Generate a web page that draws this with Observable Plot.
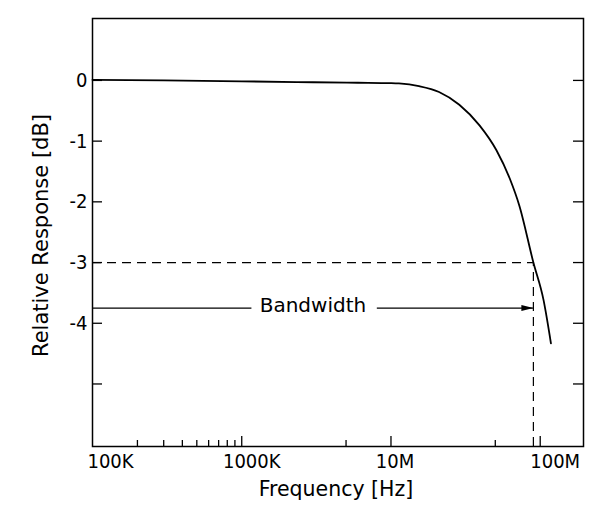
<!DOCTYPE html>
<html><head><meta charset="utf-8">
<script src="https://cdn.jsdelivr.net/npm/d3@7"></script>
<script src="https://cdn.jsdelivr.net/npm/@observablehq/plot@0.6"></script>
<style>html,body{margin:0;padding:0;background:#fff}</style>
</head><body><div id="chart"></div>
<script>
// ---- data ----
const freqHz     = [1e5, 3e5, 1e6, 3e6, 6e6, 1e7, 1.13e7, 1.54e7, 2.1e7, 2.87e7, 3.92e7, 5.09e7, 6.26e7, 7.24e7, 9.0e7, 1.053e8, 1.18e8];
const responseDb = [0.01, 0, -0.015, -0.03, -0.038, -0.045, -0.05, -0.094, -0.19, -0.40, -0.74, -1.15, -1.62, -2.06, -3.0, -3.62, -4.33];
const xTickValues = [1e5, 1e6, 1e7, 1e8];
const xTickLabels = ["100K", "1000K", "10M", "100M"];
const xMajorTicks = [1e6, 1e7, 1e8];
const xMinorTicks = [2e5, 3e5, 4e5, 5e5, 6e5, 7e5, 8e5, 9e5, 5e6, 5e7];
const yTickValues = [0, -1, -2, -3, -4, -5];
const yTickLabels = ["0", "-1", "-2", "-3", "-4"];
const bandwidthHz = 9.0e7;
const bandwidthDb = -3;
const arrowDb = -3.75;
const arrowGapHz = [1.17e6, 8.1e6];
const bandwidthLabelHz = 3.0e6;
const bandwidthLabel = "Bandwidth";
const xDomain = [1e5, 1.95e8];
const yDomain = [-6.03, 1.02];
const xTitle = "Frequency [Hz]";
const yTitle = "Relative Response [dB]";

// ---- chart ----
const curve = freqHz.map((f, i) => ({f, db: responseDb[i]}));
const arrowHead = {draw(ctx) { ctx.moveTo(0, 0); ctx.lineTo(-12, -3); ctx.lineTo(-12, 3); ctx.closePath(); }};
const labelNudge = [18, 10, 4, 15];
const dash = "9,6";

const marks = [
  Plot.ruleY([bandwidthDb], {x1: xDomain[0], x2: bandwidthHz, stroke: "#000", strokeWidth: 1.2, strokeDasharray: dash}),
  Plot.ruleX([bandwidthHz], {y1: yDomain[0], y2: bandwidthDb, stroke: "#000", strokeWidth: 1.2, strokeDasharray: dash}),
  Plot.ruleY([arrowDb], {x1: xDomain[0], x2: arrowGapHz[0], stroke: "#000", strokeWidth: 1.2}),
  Plot.ruleY([arrowDb], {x1: arrowGapHz[1], x2: bandwidthHz, stroke: "#000", strokeWidth: 1.2}),
  Plot.dot([0], {x: () => bandwidthHz, y: () => arrowDb, symbol: arrowHead, fill: "#000", stroke: "none"}),
  Plot.text([bandwidthLabel], {x: () => bandwidthLabelHz, y: () => arrowDb, text: d => d, fontSize: 20, dy: -2, fill: "#000"}),
  Plot.line(curve, {x: "f", y: "db", curve: "monotone-x", stroke: "#000", strokeWidth: 1.8}),
  // inward ticks
  Plot.ruleX(xMajorTicks, {y1: yDomain[0], y2: yDomain[0], insetBottom: 10, stroke: "#000", strokeWidth: 1.3}),
  Plot.ruleX(xMinorTicks, {y1: yDomain[0], y2: yDomain[0], insetBottom: 6, stroke: "#000", strokeWidth: 1.3}),
  Plot.ruleY(yTickValues, {x1: xDomain[0], x2: xDomain[0], insetRight: -10, stroke: "#000", strokeWidth: 1.3}),
  Plot.ruleY(yTickValues, {x1: xDomain[1], x2: xDomain[1], insetLeft: -10, stroke: "#000", strokeWidth: 1.3}),
  Plot.frame({stroke: "#000", strokeWidth: 1.5}),
  // tick labels
  Plot.text(yTickLabels, {y: (d, i) => yTickValues[i], text: d => d, frameAnchor: "left", textAnchor: "end", dx: -5, fontSize: 20, fill: "#000", ariaDescription: "ticklabel"}),
  ...xTickLabels.map((lab, i) => Plot.text([lab], {x: () => xTickValues[i], text: d => d, frameAnchor: "bottom", textAnchor: "middle", dy: 21, dx: labelNudge[i], fontSize: 20, fill: "#000", ariaDescription: "ticklabel"})),
  // titles
  Plot.text([xTitle], {frameAnchor: "bottom", textAnchor: "middle", text: d => d, dy: 49, dx: -2, fontSize: 20.5, fill: "#000"}),
  Plot.text([yTitle], {frameAnchor: "left", textAnchor: "middle", text: d => d, rotate: -90, dx: -51, dy: 3, fontSize: 21, fill: "#000"})
];

const chart = Plot.plot({
  width: 616,
  height: 515,
  marginLeft: 92,
  marginRight: 33,
  marginTop: 18,
  marginBottom: 69,
  style: {fontFamily: "'DejaVu Sans', sans-serif", fontSize: "20px", color: "#000", background: "#fff", overflow: "visible"},
  x: {type: "log", domain: xDomain, axis: null},
  y: {domain: yDomain, axis: null},
  marks
});
d3.select(chart).selectAll("g[aria-description='ticklabel']").style("font-stretch", "condensed");
document.getElementById("chart").appendChild(chart);
</script>
</body></html>
